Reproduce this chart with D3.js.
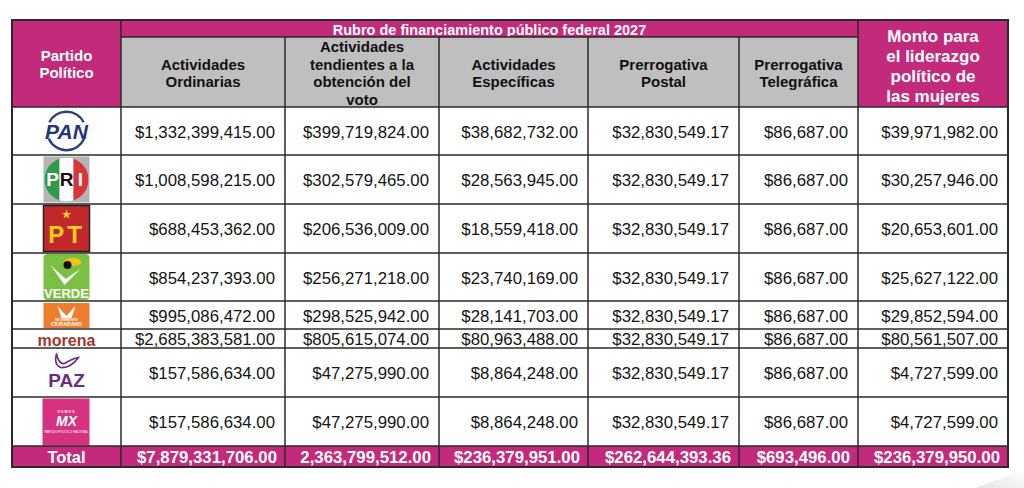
<!DOCTYPE html>
<html>
<head>
<meta charset="utf-8">
<script src="https://cdn.jsdelivr.net/npm/d3@7"></script>
<style>
  body { margin: 0; background: #fff; }
  svg { display: block; font-family: "Liberation Sans", Arial, sans-serif; }
</style>
</head>
<body>
<svg id="tabla" width="1024" height="488"></svg>
<script>
// Partidos (filas)
var parties = ["PAN", "PRI", "PT", "VERDE", "MC", "morena", "PAZ", "MX"];

// Rubros (columnas de montos)
var columns = [
  "Actividades Ordinarias",
  "Actividades tendientes a la obtención del voto",
  "Actividades Específicas",
  "Prerrogativa Postal",
  "Prerrogativa Telegráfica",
  "Monto para el liderazgo político de las mujeres"
];

// Montos por rubro, en el orden de parties
var ordinarias = [1332399415, 1008598215, 688453362, 854237393, 995086472, 2685383581, 157586634, 157586634];
var obtencionVoto = [399719824, 302579465, 206536009, 256271218, 298525942, 805615074, 47275990, 47275990];
var especificas = [38682732, 28563945, 18559418, 23740169, 28141703, 80963488, 8864248, 8864248];
var postal = [32830549.17, 32830549.17, 32830549.17, 32830549.17, 32830549.17, 32830549.17, 32830549.17, 32830549.17];
var telegrafica = [86687, 86687, 86687, 86687, 86687, 86687, 86687, 86687];
var liderazgo = [39971982, 30257946, 20653601, 25627122, 29852594, 80561507, 4727599, 4727599];

// Totales tal como vienen en el documento
var totals = [7879331706, 2363799512, 236379951, 262644393.36, 693496, 236379950];
// el total de la 2a columna no trae signo de pesos
var totalNoDollar = [1];

var series = [ordinarias, obtencionVoto, especificas, postal, telegrafica, liderazgo];

//Layout: anchos de columnas y alturas de filas
var colWidths = [109, 164, 154, 149, 151, 119, 150];
var rowHeights = [48, 49, 49, 48, 28, 19, 49, 49];
var top0 = 20, left0 = 12, rubroH = 17, headH = 70, totalH = 21;

var MAGENTA = "#c42a7b", GREY = "#bfbfbf", LINE = "#2a2a2a";

var svg = d3.select("#tabla");

var colEdges = [left0].concat(Array.from(d3.cumsum(colWidths), function(d){ return d + left0; }));
var x = d3.scaleOrdinal().domain(d3.range(colWidths.length)).range(colEdges.slice(0, -1));
var w = function(i){ return colWidths[i]; };

var bodyTop = top0 + rubroH + headH;
var rowEdges = [bodyTop].concat(Array.from(d3.cumsum(rowHeights), function(d){ return d + bodyTop; }));
var y = d3.scaleOrdinal().domain(parties).range(rowEdges.slice(0, -1));
var h = function(p){ return rowHeights[parties.indexOf(p)]; };
var totalTop = rowEdges[rowEdges.length - 1];
var right0 = colEdges[colEdges.length - 1];

var money = d3.format("$,.2f"), plain = d3.format(",.2f");

//page curl shadow bottom right
var grad = svg.append("defs").append("linearGradient").attr("id", "curl")
  .attr("x1", 0).attr("y1", 1).attr("x2", 1).attr("y2", 0);
grad.append("stop").attr("offset", "0%").attr("stop-color", "#e4e4e4");
grad.append("stop").attr("offset", "100%").attr("stop-color", "#ffffff");
svg.append("path").attr("d", "M975,488 L1024,470 L1024,488 Z").attr("fill", "url(#curl)");

// ---------- header ----------
function multiline(g, lines, cx, cy, size, lh, color) {
  var t = g.append("text").attr("text-anchor", "middle").attr("font-weight", "bold")
    .attr("font-size", size).attr("fill", color);
  var start = cy - (lines.length - 1) * lh / 2;
  lines.forEach(function(l, i) {
    t.append("tspan").attr("x", cx).attr("y", start + i * lh).attr("dy", "0.35em").text(l);
  });
}

var head = svg.append("g");
// Partido Politico cell
head.append("rect").attr("x", x(0)).attr("y", top0).attr("width", w(0)).attr("height", rubroH + headH).attr("fill", MAGENTA);
multiline(head, ["Partido", "Político"], x(0) + w(0) / 2, 64, 15, 17.5, "#fff");

// Rubro band
head.append("rect").attr("x", x(1)).attr("y", top0).attr("width", colEdges[6] - x(1)).attr("height", rubroH).attr("fill", MAGENTA);
head.append("text").attr("x", (x(1) + colEdges[6]) / 2).attr("y", top0 + rubroH / 2 + 1).attr("dy", "0.35em")
  .attr("text-anchor", "middle").attr("font-weight", "bold").attr("font-size", 14.5).attr("fill", "#fff")
  .text("Rubro de financiamiento público federal 2027");

var headLines = [
  ["Actividades", "Ordinarias"],
  ["Actividades", "tendientes a la", "obtención del", "voto"],
  ["Actividades", "Específicas"],
  ["Prerrogativa", "Postal"],
  ["Prerrogativa", "Telegráfica"]
];
headLines.forEach(function(lines, i) {
  var c = i + 1;
  head.append("rect").attr("x", x(c)).attr("y", top0 + rubroH).attr("width", w(c)).attr("height", headH).attr("fill", GREY);
  multiline(head, lines, x(c) + w(c) / 2, top0 + rubroH + headH / 2 + 1, 15, 17.5, "#111");
});
// Monto para el liderazgo
head.append("rect").attr("x", x(6)).attr("y", top0).attr("width", w(6)).attr("height", rubroH + headH).attr("fill", MAGENTA);
multiline(head, ["Monto para", "el liderazgo", "político de", "las mujeres"], x(6) + w(6) / 2, 66, 17, 20, "#fff");

// ---------- body ----------
var body = svg.append("g");
var rows = body.selectAll("g.row").data(parties).enter().append("g").attr("class", "row");

rows.each(function(p, r) {
  var g = d3.select(this);
  series.forEach(function(s, i) {
    var c = i + 1;
    g.append("text")
      .attr("x", x(c) + w(c) - 10)
      .attr("y", y(p) + h(p) / 2 + 1)
      .attr("dy", "0.35em")
      .attr("text-anchor", "end")
      .attr("font-size", 16.8)
      .attr("fill", "#141414")
      .text(money(s[r]));
  });
});

// total row
var tot = svg.append("g");
tot.append("rect").attr("x", left0).attr("y", totalTop).attr("width", right0 - left0).attr("height", totalH).attr("fill", MAGENTA);
tot.append("text").attr("x", x(0) + w(0) / 2).attr("y", totalTop + totalH / 2 + 1).attr("dy", "0.35em")
  .attr("text-anchor", "middle").attr("font-weight", "bold").attr("font-size", 16.5).attr("fill", "#fff").text("Total");
totals.forEach(function(v, i) {
  var c = i + 1;
  tot.append("text")
    .attr("x", x(c) + w(c) - 8)
    .attr("y", totalTop + totalH / 2 + 1)
    .attr("dy", "0.35em")
    .attr("text-anchor", "end")
    .attr("font-weight", "bold").attr("font-size", 16.8).attr("fill", "#fff")
    .text(totalNoDollar.indexOf(i) >= 0 ? plain(v) : money(v));
});

// ---------- logos ----------
var lx = x(0) + w(0) / 2;
var logos = {
  PAN: function(g, cy) {
    g.append("rect").attr("x", lx - 23).attr("y", cy - 23).attr("width", 46).attr("height", 46).attr("fill", "#fff");
    var arc = d3.arc().innerRadius(18).outerRadius(20.5);
    g.append("path").attr("transform", "translate(" + lx + "," + cy + ")")
      .attr("d", arc({startAngle: -1.1, endAngle: 1.1})).attr("fill", "#2b3f85");
    g.append("path").attr("transform", "translate(" + lx + "," + cy + ")")
      .attr("d", arc({startAngle: 2.0, endAngle: 4.3})).attr("fill", "#2b3f85");
    g.append("text").attr("x", lx).attr("y", cy).attr("dy", "0.36em").attr("text-anchor", "middle")
      .attr("font-weight", "bold").attr("font-style", "italic").attr("font-size", 21).attr("fill", "#22357a").text("PAN");
  },
  PRI: function(g, cy) {
    g.append("rect").attr("x", lx - 23).attr("y", cy - 23).attr("width", 46).attr("height", 46).attr("fill", "#b4b4b4");
    g.append("clipPath").attr("id", "priclip").append("circle").attr("cx", lx).attr("cy", cy).attr("r", 22);
    var dg = g.append("g").attr("clip-path", "url(#priclip)");
    dg.append("rect").attr("x", lx - 22).attr("y", cy - 22).attr("width", 15).attr("height", 44).attr("fill", "#2f9a48");
    dg.append("rect").attr("x", lx - 7).attr("y", cy - 22).attr("width", 14).attr("height", 44).attr("fill", "#ffffff");
    dg.append("rect").attr("x", lx + 7).attr("y", cy - 22).attr("width", 15).attr("height", 44).attr("fill", "#d8363a");
    [["P", -14, "#fff"], ["R", 0, "#111"], ["I", 14, "#fff"]].forEach(function(l) {
      g.append("text").attr("x", lx + l[1]).attr("y", cy).attr("dy", "0.36em").attr("text-anchor", "middle")
        .attr("font-weight", "bold").attr("font-size", 19).attr("fill", l[2]).text(l[0]);
    });
  },
  PT: function(g, cy) {
    g.append("rect").attr("x", lx - 23).attr("y", cy - 23).attr("width", 46).attr("height", 46).attr("fill", "#c3282c")
      .attr("stroke", "#222").attr("stroke-width", 1.5);
    g.append("path").attr("transform", "translate(" + lx + "," + (cy - 14) + ")")
      .attr("d", d3.symbol().type(d3.symbolStar).size(28)()).attr("fill", "#f5d21f");
    g.append("text").attr("x", lx).attr("y", cy + 6).attr("dy", "0.36em").attr("text-anchor", "middle")
      .attr("font-weight", "bold").attr("font-size", 24).attr("fill", "#f5d21f").attr("letter-spacing", 3).text("PT");
  },
  VERDE: function(g, cy) {
    g.append("rect").attr("x", lx - 23).attr("y", cy - 23).attr("width", 46).attr("height", 46).attr("rx", 4).attr("fill", "#7cc043");
    g.append("path").attr("d", "M" + (lx - 16) + "," + (cy - 12) + " L" + (lx - 2) + "," + (cy + 8) + " L" + (lx + 14) + "," + (cy - 8)
      + " L" + (lx - 1) + "," + (cy + 2) + " Z").attr("fill", "#fff");
    g.append("ellipse").attr("cx", lx + 6).attr("cy", cy - 15).attr("rx", 9).attr("ry", 4).attr("fill", "#f2c318");
    g.append("circle").attr("cx", lx + 1).attr("cy", cy - 12).attr("r", 4).attr("fill", "#111");
    g.append("text").attr("x", lx).attr("y", cy + 16).attr("dy", "0.36em").attr("text-anchor", "middle")
      .attr("font-weight", "bold").attr("font-size", 13).attr("fill", "#fff").text("VERDE");
  },
  MC: function(g, cy) {
    g.append("rect").attr("x", lx - 23).attr("y", cy - 12).attr("width", 46).attr("height", 25).attr("fill", "#ee7e2f");
    g.append("path").attr("d", "M" + (lx - 9) + "," + (cy - 9) + " L" + lx + "," + (cy + 1) + " L" + (lx + 9) + "," + (cy - 9)
      + " L" + (lx + 5) + "," + (cy + 3) + " L" + (lx - 5) + "," + (cy + 3) + " Z").attr("fill", "#fff");
    g.append("text").attr("x", lx).attr("y", cy + 6).attr("text-anchor", "middle").attr("font-weight", "bold")
      .attr("font-size", 3.5).attr("fill", "#fff").text("MOVIMIENTO");
    g.append("text").attr("x", lx).attr("y", cy + 11).attr("text-anchor", "middle").attr("font-weight", "bold")
      .attr("font-size", 5).attr("fill", "#fff").text("CIUDADANO");
  },
  morena: function(g, cy) {
    g.append("text").attr("x", lx).attr("y", cy + 2).attr("dy", "0.35em").attr("text-anchor", "middle")
      .attr("font-weight", "bold").attr("font-size", 16).attr("fill", "#a3352b").text("morena");
  },
  PAZ: function(g, cy) {
    g.append("path").attr("d", "M" + (lx - 10) + "," + (cy - 19) + " Q" + (lx - 8) + "," + (cy - 8) + " " + (lx - 2) + "," + (cy - 9)
      + " Q" + (lx + 6) + "," + (cy - 14) + " " + (lx + 12) + "," + (cy - 15)
      + " Q" + (lx + 4) + "," + (cy - 4) + " " + (lx - 6) + "," + (cy - 5) + " Q" + (lx - 13) + "," + (cy - 8) + " " + (lx - 10) + "," + (cy - 19) + " Z")
      .attr("fill", "none").attr("stroke", "#6a2d80").attr("stroke-width", 1.6);
    g.append("text").attr("x", lx).attr("y", cy + 8).attr("dy", "0.36em").attr("text-anchor", "middle")
      .attr("font-weight", "bold").attr("font-size", 19).attr("fill", "#6a2d80").text("PAZ");
  },
  MX: function(g, cy) {
    g.append("rect").attr("x", lx - 24).attr("y", cy - 23).attr("width", 47).attr("height", 47).attr("fill", "#d6327f");
    g.append("text").attr("x", lx).attr("y", cy - 9).attr("text-anchor", "middle").attr("font-weight", "bold")
      .attr("font-size", 3.5).attr("letter-spacing", 1).attr("fill", "#fff").text("SOMOS");
    g.append("text").attr("x", lx).attr("y", cy - 1).attr("dy", "0.36em").attr("text-anchor", "middle")
      .attr("font-weight", "bold").attr("font-style", "italic").attr("font-size", 14).attr("fill", "#fff").text("MX");
    g.append("text").attr("x", lx).attr("y", cy + 11).attr("text-anchor", "middle")
      .attr("font-size", 3).attr("fill", "#fff").text("PARTIDO POLÍTICO NACIONAL");
  }
};
rows.each(function(p) {
  logos[p](d3.select(this), y(p) + h(p) / 2);
});

// ---------- grid lines ----------
var grid = svg.append("g").attr("stroke", LINE).attr("fill", "none");
// horizontal
var hLines = [top0 + rubroH].concat(rowEdges);
hLines.forEach(function(yy, i) {
  var x1 = i === 0 ? x(1) : left0;
  var x2 = i === 0 ? colEdges[6] : right0;
  grid.append("line").attr("x1", x1).attr("x2", x2).attr("y1", yy).attr("y2", yy).attr("stroke-width", 1.5);
});
// vertical
colEdges.slice(1, -1).forEach(function(xx, i) {
  var y1 = (i === 0 || i === 5) ? top0 : top0 + rubroH;
  grid.append("line").attr("x1", xx).attr("x2", xx).attr("y1", y1).attr("y2", totalTop + totalH).attr("stroke-width", 1.5);
});
// outer frame
grid.append("rect").attr("x", left0).attr("y", top0).attr("width", right0 - left0).attr("height", totalTop + totalH - top0)
  .attr("stroke-width", 2);
</script>
</body>
</html>
